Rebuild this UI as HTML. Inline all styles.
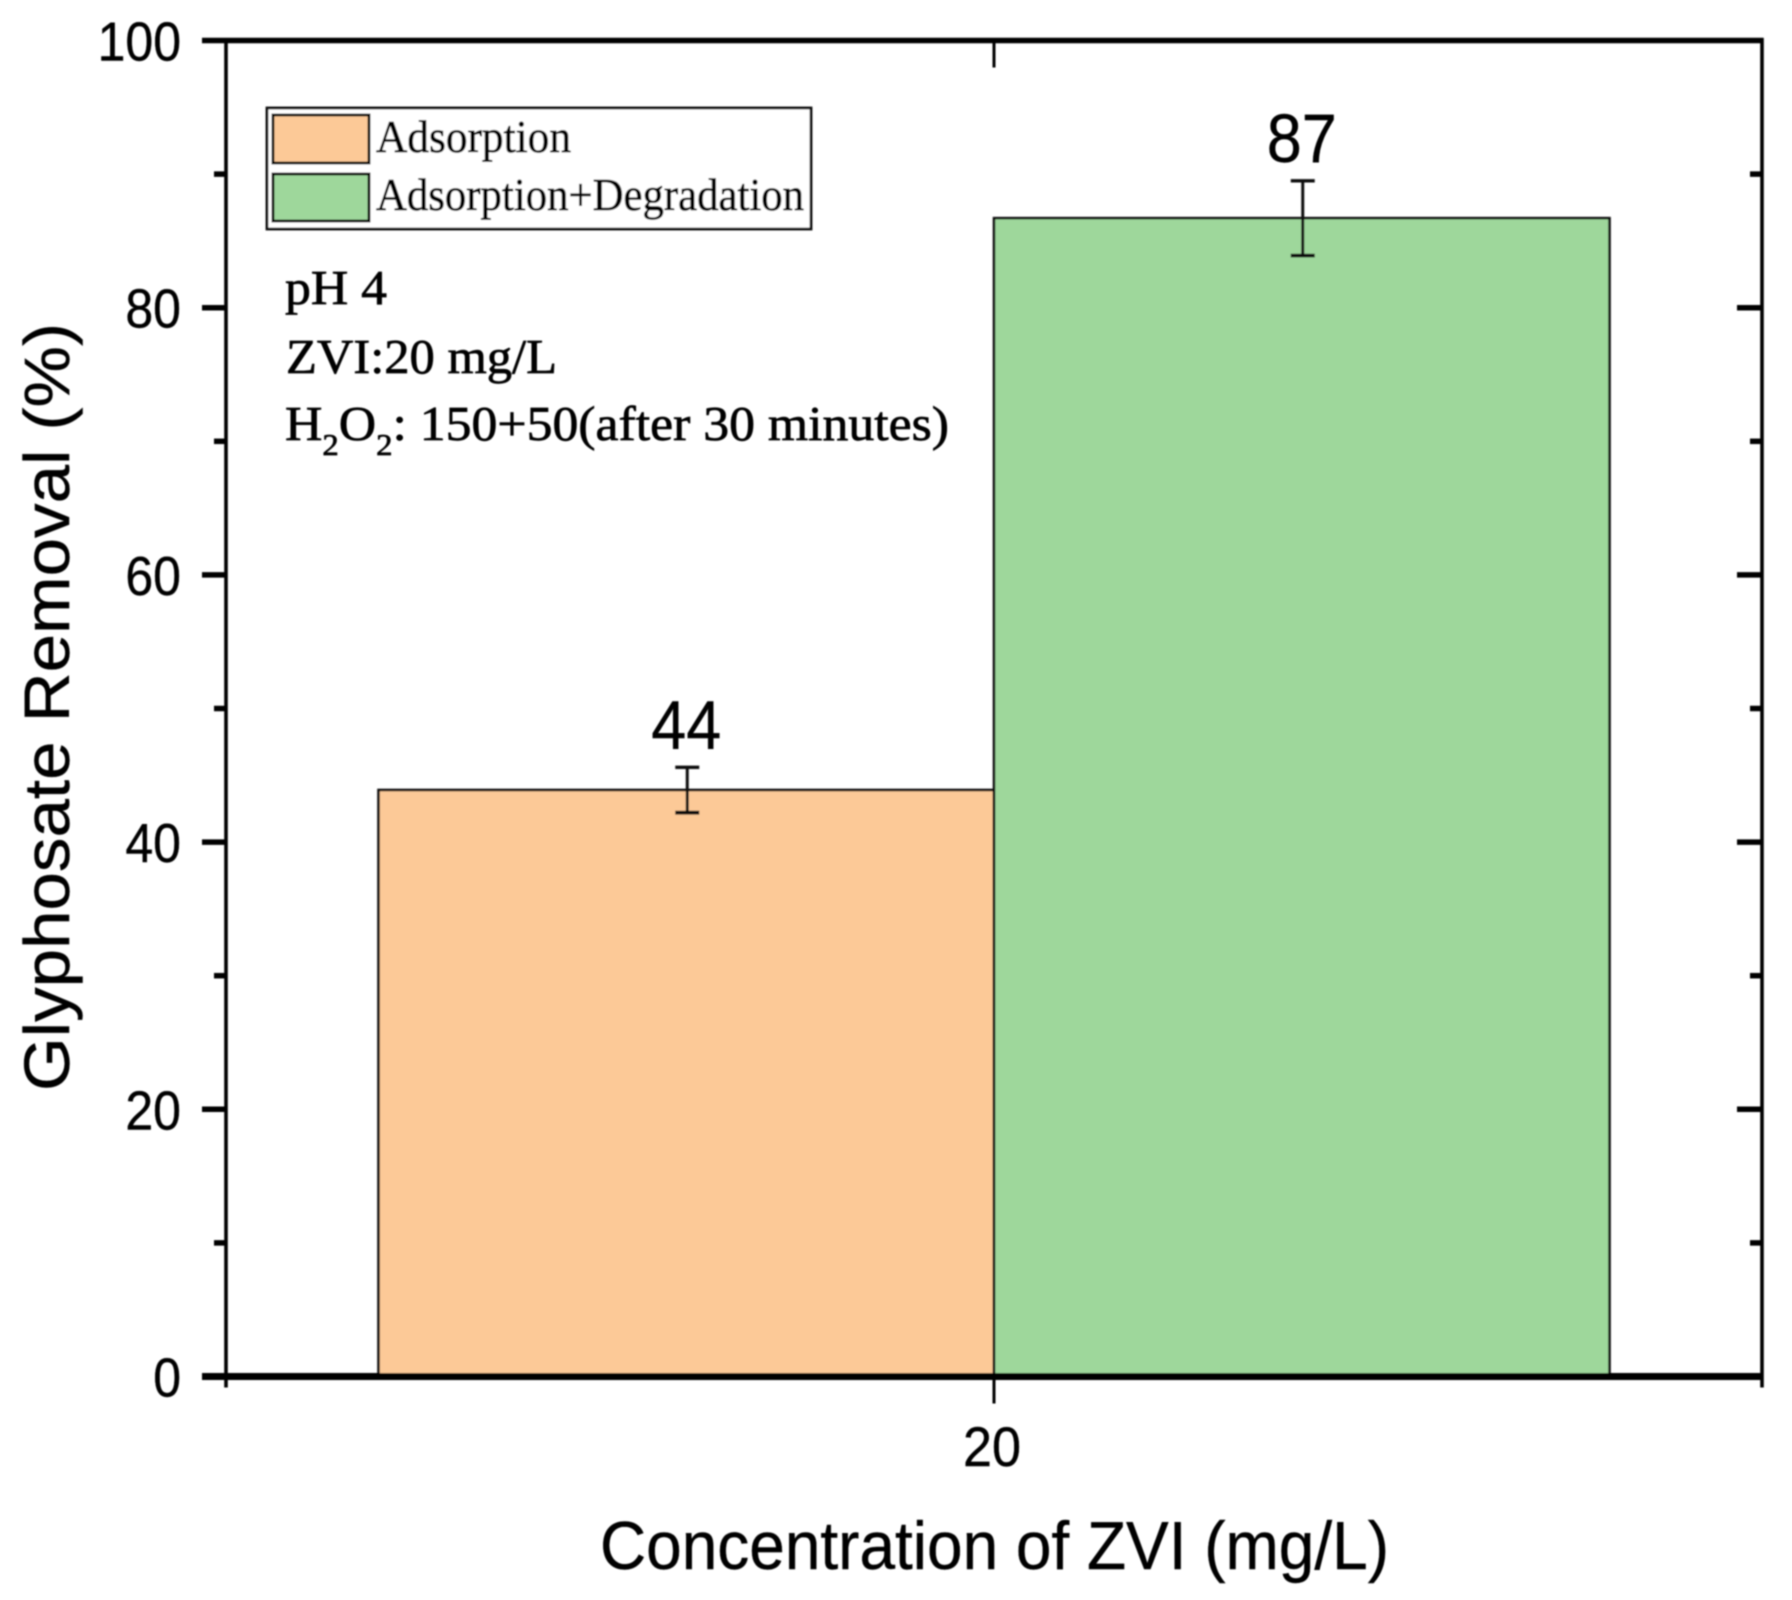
<!DOCTYPE html>
<html lang="en">
<head>
<meta charset="utf-8">
<title>Glyphosate Removal Bar Chart</title>
<style>
html,body{margin:0;padding:0;background:#fff;width:1792px;height:1600px;overflow:hidden}
svg{display:block}
text{fill:#000}
.sans{font-family:"Liberation Sans",sans-serif;stroke:#000;stroke-width:0.4}
.serif{font-family:"Liberation Serif",serif;fill:#000;stroke:#000;stroke-width:0.7}
</style>
</head>
<body>
<svg id="chart" xmlns="http://www.w3.org/2000/svg" width="1792" height="1600" viewBox="0 0 1792 1600">
<defs><filter id="soft" x="-2%" y="-2%" width="104%" height="104%"><feGaussianBlur stdDeviation="0.7"/></filter></defs>
<g id="root" filter="url(#soft)">
<g id="bars"></g>
<g id="errors"></g>
<g id="axes"></g>
<g id="ticklabels"></g>
<g id="valuelabels"></g>

<text class="sans" transform="translate(69 1091) rotate(-90)" font-size="64" textLength="768" lengthAdjust="spacingAndGlyphs">Glyphosate Removal (%)</text>
<text class="sans" x="600" y="1569" font-size="68" textLength="789" lengthAdjust="spacingAndGlyphs">Concentration of ZVI (mg/L)</text>

<g>
<rect x="267" y="108" width="544" height="121" fill="#fff" stroke="#111" stroke-width="2.8"/>
<rect x="273" y="115" width="96" height="48" fill="#FCC997" stroke="#111" stroke-width="3"/>
<rect x="273" y="174" width="96" height="47" fill="#9ED79B" stroke="#111" stroke-width="3"/>
<text class="serif" x="376" y="152" font-size="46" textLength="195" lengthAdjust="spacingAndGlyphs">Adsorption</text>
<text class="serif" x="376" y="210" font-size="46" textLength="428" lengthAdjust="spacingAndGlyphs">Adsorption+Degradation</text>
</g>

<g>
<text class="serif" x="285" y="304" font-size="49" textLength="102" lengthAdjust="spacingAndGlyphs">pH 4</text>
<text class="serif" x="286" y="373" font-size="49" textLength="271" lengthAdjust="spacingAndGlyphs">ZVI:20 mg/L</text>
<text class="serif" x="285" y="440" font-size="49" textLength="664" lengthAdjust="spacingAndGlyphs">H<tspan font-size="31" dy="15">2</tspan><tspan dy="-15">O</tspan><tspan font-size="31" dy="15">2</tspan><tspan dy="-15">: 150+50(after 30 minutes)</tspan></text>
</g>
</g>
</svg>
<script>
const seriesNames = ["Adsorption", "Adsorption+Degradation"];
const seriesSlugs = ["adsorption", "adsorption-degradation"];
const seriesValues = [43.9, 86.7];
const seriesErrors = [1.7, 2.8];
const printedValues = ["44", "87"];
const seriesColors = ["#FCC997", "#9ED79B"];
const xCategories = ["20"];
const yTickLabels = [0, 20, 40, 60, 80, 100];
const yMinorValues = [10, 30, 50, 70, 90];

const NS = "http://www.w3.org/2000/svg";
const plot = {left: 226, right: 1762, top: 40.5, bottom: 1376.5};
const yMax = 100;
function yScale(v) { return plot.bottom - (v / yMax) * (plot.bottom - plot.top); }
function xCategory(i) { return plot.left + (plot.right - plot.left) * (i + 0.5) / xCategories.length; }
const barWidth = 615.5;
function xBar(s) { return xCategory(0) + (s - seriesValues.length / 2) * barWidth; }

function mk(tag, parent, attrs, txt) {
  const el = document.createElementNS(NS, tag);
  for (const k in attrs) el.setAttribute(k, attrs[k]);
  if (txt !== undefined) el.textContent = txt;
  parent.appendChild(el);
  return el;
}
const gBars = document.getElementById("bars");
const gErr = document.getElementById("errors");
const gAxes = document.getElementById("axes");
const gTick = document.getElementById("ticklabels");
const gVal = document.getElementById("valuelabels");

seriesValues.forEach(function (v, s) {
  const x = xBar(s);
  const y = yScale(v);
  const bar = mk("rect", gBars, {x: x, y: y, width: barWidth, height: plot.bottom - y, fill: seriesColors[s], stroke: "#111", "stroke-width": 2.6});
  
  

  const cx = x + barWidth / 2;
  const hi = yScale(v + seriesErrors[s]);
  const lo = yScale(v - seriesErrors[s]);
  const stem = mk("line", gErr, {x1: cx + 1, x2: cx + 1, y1: hi, y2: lo, stroke: "#111", "stroke-width": 3});
  
  
  const capTop = mk("line", gErr, {x1: cx - 11, x2: cx + 13, y1: hi, y2: hi, stroke: "#111", "stroke-width": 3.4});
  
  
  const capBottom = mk("line", gErr, {x1: cx - 11, x2: cx + 13, y1: lo, y2: lo, stroke: "#111", "stroke-width": 3.8});
  
  

  const lab = mk("text", gVal, {class: "sans", x: cx - 35, y: hi - 19, "font-size": 69, textLength: 70, lengthAdjust: "spacingAndGlyphs"}, printedValues[s]);
  
  
});

// frame
const lineSpec = {stroke: "#000"};
function axisLine(x1, y1, x2, y2, w, name) {
  const l = mk("line", gAxes, {x1: x1, y1: y1, x2: x2, y2: y2, stroke: lineSpec.stroke, "stroke-width": w});
  
  
  return l;
}
axisLine(plot.left, plot.top - 2.5, plot.left, plot.bottom + 11, 3.6, 'left-axis-line');
axisLine(plot.right, plot.top - 2.5, plot.right, plot.bottom + 11, 3.6, 'right-axis-line');
axisLine(plot.left - 24, plot.top, plot.right + 1.5, plot.top, 5.5, 'top-axis-line');
axisLine(plot.left - 24, plot.bottom, plot.right + 1.5, plot.bottom, 7, 'bottom-axis-line');

yTickLabels.forEach(function (v) {
  const y = yScale(v);
  if (v !== 0 && v !== yMax) {
    axisLine(plot.left - 24, y, plot.left, y, 5.5, 'y-major-tick-' + v);
    axisLine(plot.right - 25, y, plot.right, y, 5.5, 'y-major-tick-right-' + v);
  }
  const str = String(v);
  const w = str.length * 27.8;
  const t = mk("text", gTick, {class: "sans", x: 181 - w, y: y + 20, "font-size": 55, textLength: w, lengthAdjust: "spacingAndGlyphs"}, str);
  
  
});
yMinorValues.forEach(function (v) {
  const y = yScale(v);
  axisLine(plot.left - 12, y, plot.left, y, 5.5, 'y-minor-tick-' + v);
  axisLine(plot.right - 12, y, plot.right, y, 5.5, 'y-minor-tick-right-' + v);
});
xCategories.forEach(function (c, i) {
  const x = xCategory(i);
  axisLine(x, plot.bottom, x, plot.bottom + 27, 3, 'x-major-tick-' + c);
  axisLine(x, plot.top, x, plot.top + 27, 3, 'x-major-tick-top-' + c);
  const w = c.length * 29;
  const t = mk("text", gTick, {class: "sans", x: x - 2 - w / 2, y: plot.bottom + 89.5, "font-size": 56, textLength: w, lengthAdjust: "spacingAndGlyphs"}, c);
  
  
});
</script>
</body>
</html>
